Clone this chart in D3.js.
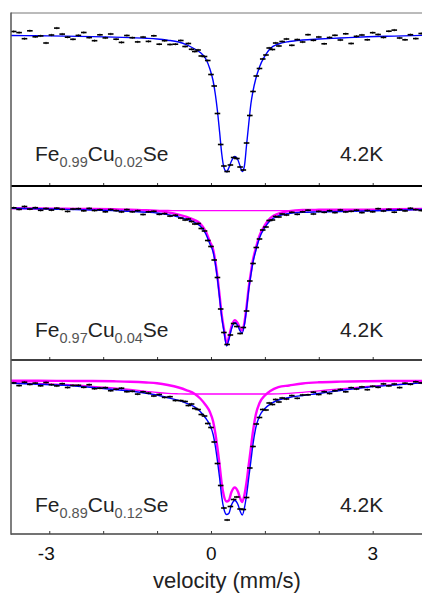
<!DOCTYPE html>
<html><head><meta charset="utf-8">
<script src="https://cdn.jsdelivr.net/npm/d3@7"></script>
<style>body{margin:0;background:#fff} svg{display:block}</style>
</head><body>
<svg id="chart" width="422" height="595"></svg>
<script>
// ---- data (relative transmission, %) ----
const velocity = [-3.66,-3.56,-3.46,-3.36,-3.26,-3.16,-3.06,-2.96,-2.86,-2.76,-2.66,-2.56,-2.46,-2.36,-2.26,-2.16,-2.06,-1.96,-1.86,-1.76,-1.66,-1.56,-1.46,-1.36,-1.26,-1.16,-1.06,-0.96,-0.86,-0.76,-0.66,-0.56,
 -0.48,-0.42,-0.36,-0.30,-0.24,-0.18,-0.12,-0.06,0.00,0.06,0.12,0.18,0.24,0.30,0.36,0.42,0.48,0.54,0.60,0.66,0.72,0.78,0.84,0.90,0.96,1.02,1.08,1.14,1.20,1.26,1.32,
 1.40,1.50,1.60,1.70,1.80,1.90,2.00,2.10,2.20,2.30,2.40,2.50,2.60,2.70,2.80,2.90,3.00,3.10,3.20,3.30,3.40,3.50,3.60,3.70,3.80,3.90];

const cu002Data = [100.40,100.29,99.68,100.47,99.87,99.96,99.25,100.05,100.74,100.14,99.83,99.62,100.01,100.30,99.79,99.48,100.07,99.76,100.15,99.63,99.31,100.00,99.78,99.36,99.84,99.41,99.97,99.13,99.48,99.10,99.13,99.50,
 98.90,99.20,98.62,98.40,98.55,97.95,97.90,97.50,96.10,94.95,92.20,89.10,86.95,86.40,87.05,87.80,87.70,86.85,86.55,89.25,92.00,94.40,95.95,96.70,97.65,98.05,98.75,98.60,99.25,98.95,99.40,
 99.65,99.02,99.59,99.35,100.08,99.52,99.85,99.17,99.80,100.02,99.55,100.17,99.20,99.92,100.05,99.57,100.28,100.10,99.81,100.43,100.54,99.75,99.57,100.08,99.69,100.20];

const cu004Data = [100.17,100.01,100.30,100.04,100.18,99.92,100.10,99.94,100.13,100.02,99.81,100.05,100.08,99.87,100.11,99.90,99.98,99.77,100.00,99.89,99.76,99.99,99.77,99.88,99.50,99.77,99.82,99.52,99.59,99.34,99.43,99.14,
 98.95,99.05,98.80,98.55,98.60,98.10,97.85,96.90,96.30,94.95,93.20,90.05,87.70,86.50,87.45,88.60,88.30,87.60,88.20,89.85,92.85,94.60,96.20,97.05,97.95,98.25,98.90,98.95,99.30,99.25,99.55,
 99.45,99.72,99.52,99.77,99.93,99.55,99.81,99.72,99.88,99.69,99.95,99.76,99.82,99.93,99.69,99.90,99.77,100.08,99.85,100.01,99.73,99.99,99.86,100.12,99.99,99.90];

const cu012Data = [99.81,99.54,99.88,99.66,99.79,99.52,99.85,99.63,99.51,99.73,99.35,99.56,99.57,99.37,99.63,99.23,99.28,99.33,99.03,99.18,99.28,98.93,98.97,98.69,98.92,98.79,98.50,98.65,98.36,98.43,98.05,98.04,
 97.95,97.55,97.70,97.25,97.15,96.65,96.50,95.75,95.35,93.90,91.75,89.55,87.30,86.10,87.45,88.15,88.40,87.20,87.15,88.35,91.30,93.45,95.70,96.35,97.15,97.10,97.80,97.65,98.15,97.90,98.30,
 98.20,98.54,98.27,98.60,98.62,98.88,98.65,98.93,98.75,99.03,99.15,98.92,99.33,99.20,99.41,99.13,99.47,99.37,99.71,99.51,99.70,99.34,99.78,99.67,99.92,99.81];

const fitVelocity = [-3.71,-3.2,-2.7,-2.2,-1.8,-1.5,-1.2,-1.0,-0.8,-0.6,-0.45,-0.3,-0.2,-0.1,-0.02,0.04,0.08,0.12,0.16,0.20,0.24,0.29,0.33,0.38,0.44,0.50,0.54,0.58,0.62,0.66,0.70,0.74,0.78,0.83,0.90,1.0,1.1,1.25,1.45,1.7,2.0,2.4,2.9,3.4,4.0];

const cu002Fit = [100.00,99.97,99.94,99.89,99.84,99.79,99.72,99.65,99.53,99.35,99.07,98.65,98.30,97.70,96.65,95.45,94.15,92.45,90.35,88.15,86.80,86.38,86.75,87.45,87.90,87.55,86.95,86.40,86.95,89.05,91.15,93.15,94.45,95.65,96.85,97.95,98.70,99.15,99.40,99.55,99.65,99.75,99.87,99.94,100.02];

const cu004Fit = [100.12,100.07,100.01,99.95,99.89,99.83,99.73,99.65,99.49,99.25,99.02,98.70,98.35,97.60,96.55,95.75,94.60,93.05,91.15,89.20,87.85,86.35,86.95,88.05,88.70,88.35,87.85,87.65,88.45,90.05,91.95,93.45,94.75,95.85,97.15,98.20,98.90,99.35,99.60,99.72,99.76,99.80,99.85,99.93,100.02];
const cu004Doublet = [100.12,100.10,100.07,100.05,100.02,99.99,99.92,99.86,99.71,99.49,99.26,98.94,98.59,97.84,96.79,95.99,94.84,93.29,91.39,89.44,88.09,86.59,87.19,88.29,88.94,88.59,88.09,87.89,88.69,90.29,92.19,93.69,94.99,96.09,97.39,98.44,99.14,99.59,99.84,99.95,99.97,99.98,99.98,100.02,100.06];

const cu012Fit = [99.77,99.68,99.57,99.35,99.15,99.00,98.77,98.60,98.33,98.07,97.77,97.40,96.95,96.30,95.60,94.65,93.50,92.00,90.30,88.40,87.20,86.65,86.75,87.60,88.05,87.65,87.00,86.60,87.30,88.60,90.30,92.00,93.70,95.30,96.50,97.25,97.70,98.10,98.35,98.55,98.75,99.05,99.38,99.60,99.85];
const cu012Doublet = [100.02,100.02,100.01,100.00,99.97,99.93,99.85,99.77,99.60,99.35,99.07,98.70,98.25,97.60,96.90,95.95,94.80,93.30,91.60,89.70,88.50,87.95,88.05,88.90,89.35,88.95,88.30,87.90,88.60,89.90,91.60,93.30,95.00,96.60,97.80,98.55,99.00,99.38,99.55,99.75,99.87,99.94,99.98,100.00,100.02];

const broadVelocity = [-3.71,-3.2,-2.7,-2.2,-1.8,-1.5,-1.2,-1.0,-0.8,-0.6,-0.45,0.4,1.1,1.25,1.45,1.7,2.0,2.4,2.9,3.4,4.0];
const cu004Broad = [100.12,100.09,100.06,100.02,99.99,99.96,99.93,99.91,99.90,99.88,99.88,99.88,99.88,99.88,99.88,99.89,99.91,99.94,99.99,100.03,100.08];
const cu012Broad = [99.82,99.75,99.65,99.47,99.30,99.15,98.97,98.85,98.76,98.72,98.70,98.70,98.70,98.72,98.77,98.87,99.02,99.22,99.45,99.64,99.84];

const compositions = [["Fe","0.99","Cu","0.02","Se"],["Fe","0.97","Cu","0.04","Se"],["Fe","0.89","Cu","0.12","Se"]];
const temperature = "4.2K";
const tickValues = [-3,-2,-1,0,1,2,3];
const tickLabels = [-3,0,3];
const xTitle = "velocity (mm/s)";

// ---- layout ----
const FONT = "'Liberation Sans', Arial, Helvetica, sans-serif";
const panels = [
  {data: cu002Data, fit: cu002Fit, doublet: null, broad: null, top: 13, bottom: 186, tTop: 102.25, tBottom: 84.95, comp: compositions[0], labelY: 161, lineW: 2, lineC: "#000"},
  {data: cu004Data, fit: cu004Fit, doublet: cu004Doublet, broad: cu004Broad, top: 186, bottom: 360, tTop: 102.35, tBottom: 84.95, comp: compositions[1], labelY: 337, lineW: 1.5, lineC: "#000"},
  {data: cu012Data, fit: cu012Fit, doublet: cu012Doublet, broad: cu012Broad, top: 360, bottom: 534, tTop: 102.1, tBottom: 84.7, comp: compositions[2], labelY: 512, lineW: 1.5, lineC: "#444"}
];

const svg = d3.select("#chart");
const x = d3.scaleLinear().domain([-3.71, 4.0]).range([11, 426.6]);
const defs = svg.append("defs");

panels.forEach((p, i) => {
  const y = d3.scaleLinear().domain([p.tTop, p.tBottom]).range([p.top, p.bottom]);
  defs.append("clipPath").attr("id", "clip" + i).append("rect")
    .attr("x", 11).attr("y", p.top).attr("width", 411).attr("height", p.bottom - p.top);
  const g = svg.append("g").attr("clip-path", `url(#clip${i})`);
  const line = d3.line().x(d => x(d[0])).y(d => y(d[1])).curve(d3.curveMonotoneX);

  if (p.broad) {
    g.append("path").datum(broadVelocity.map((v, k) => [v, p.broad[k]]))
      .attr("d", line).attr("fill", "none").attr("stroke", "#ff00ff").attr("stroke-width", 1.3);
  }
  if (p.doublet) {
    g.append("path").datum(fitVelocity.map((v, k) => [v, p.doublet[k]]))
      .attr("d", line).attr("fill", "none").attr("stroke", "#ff00ff").attr("stroke-width", 2.4);
  }
  g.append("path").datum(fitVelocity.map((v, k) => [v, p.fit[k]]))
    .attr("d", line).attr("fill", "none").attr("stroke", "#0000ff").attr("stroke-width", 1.4);

  const pts = g.append("g");
  velocity.forEach((v, k) => {
    const cx = x(v), cy = y(p.data[k]);
    pts.append("line").attr("x1", cx - 2.8).attr("x2", cx + 2.8).attr("y1", cy).attr("y2", cy)
      .attr("stroke", "#000").attr("stroke-width", 1.6);
    pts.append("line").attr("x1", cx).attr("x2", cx).attr("y1", cy - 1.2).attr("y2", cy + 1.2)
      .attr("stroke", "#000").attr("stroke-width", 0.7);
  });

  // bottom line of panel with inward ticks
  const axis = d3.axisBottom(x).tickValues(tickValues).tickSizeInner(-3).tickSizeOuter(0)
    .tickFormat(d => (i === 2 && tickLabels.includes(d)) ? String(d) : "");
  const ag = svg.append("g").attr("transform", `translate(0,${p.bottom})`).call(axis);
  ag.select(".domain").remove();
  ag.selectAll(".tick line").attr("stroke", "#333").attr("stroke-width", 1);
  ag.selectAll(".tick text").attr("fill", "#111").attr("font-family", FONT).attr("font-size", 19)
    .attr("text-anchor", "end").attr("x", 5).attr("dy", 0).attr("y", 26);
  svg.append("line").attr("x1", 11).attr("x2", 422).attr("y1", p.bottom).attr("y2", p.bottom)
    .attr("stroke", p.lineC).attr("stroke-width", p.lineW);

  // labels
  const t = svg.append("text").attr("x", 35).attr("y", p.labelY)
    .attr("font-family", FONT).attr("font-size", 21).attr("fill", "#222");
  p.comp.forEach((s, k) => {
    const isSub = k % 2 === 1;
    const ts = t.append("tspan").text(s);
    if (isSub) ts.attr("font-size", 14.5).attr("dy", 5.5).attr("fill", "#555");
    else if (k > 0) ts.attr("dy", -5.5);
  });
  svg.append("text").attr("x", 340).attr("y", p.labelY).attr("font-family", FONT)
    .attr("font-size", 21).attr("fill", "#222").text(temperature);
});

// frame
svg.append("line").attr("x1", 11).attr("x2", 422).attr("y1", 13).attr("y2", 13)
  .attr("stroke", "#777").attr("stroke-width", 1);
svg.append("line").attr("x1", 11).attr("x2", 11).attr("y1", 12.5).attr("y2", 534.7)
  .attr("stroke", "#555").attr("stroke-width", 1.5);

svg.append("text").attr("x", 227).attr("y", 588).attr("text-anchor", "middle")
  .attr("font-family", FONT).attr("font-size", 22).attr("fill", "#222").text(xTitle);
</script>
</body></html>
